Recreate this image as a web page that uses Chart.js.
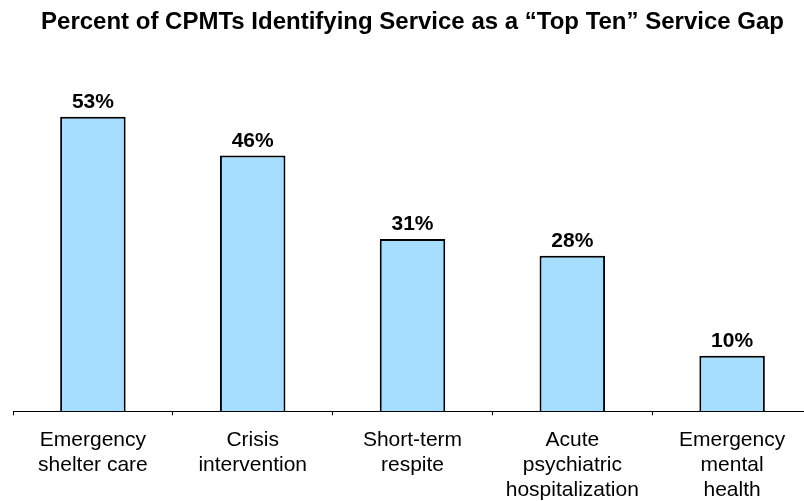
<!DOCTYPE html>
<html>
<head>
<meta charset="utf-8">
<script src="https://cdn.jsdelivr.net/npm/chart.js@4/dist/chart.umd.min.js"></script>
<style>
  html, body { margin: 0; padding: 0; background: #fff; overflow: hidden; }
  #wrap { width: 830px; height: 515px; }
</style>
</head>
<body>
<div id="wrap"><canvas id="myChart"></canvas></div>
<script>
// data
var categories = [
    ['Emergency', 'shelter care'],
    ['Crisis', 'intervention'],
    ['Short-term', 'respite'],
    ['Acute', 'psychiatric', 'hospitalization'],
    ['Emergency', 'mental', 'health']
];
var percentGap = [53, 46, 31, 28, 10];

// value labels above the bars
var valueLabels = {
    id: 'valueLabels',
    afterDatasetsDraw: function(chart) {
        var c = chart.ctx;
        var meta = chart.getDatasetMeta(0);
        c.save();
        c.font = 'bold 21px "Liberation Sans", Arial, sans-serif';
        c.fillStyle = '#000';
        c.textAlign = 'center';
        c.textBaseline = 'bottom';
        meta.data.forEach(function(bar, i) {
            c.fillText(percentGap[i] + '%', bar.x, bar.y - 4);
        });
        c.restore();
    }
};

var ctx = document.getElementById('myChart').getContext('2d');
var chart = new Chart(ctx, {
    type: 'bar',
    data: {
        labels: categories,
        datasets: [{
            data: percentGap,
            backgroundColor: '#A6DEFF',
            borderColor: '#000',
            borderWidth: 2,
            barPercentage: 0.41,
            categoryPercentage: 1
        }]
    },
    options: {
        responsive: true,
        maintainAspectRatio: false,
        animation: false,
        layout: { padding: { left: 13, right: 18, top: 0, bottom: 0 } },
        plugins: {
            legend: { display: false },
            tooltip: { enabled: false },
            title: {
                display: true,
                text: 'Percent of CPMTs Identifying Service as a \u201cTop Ten\u201d Service Gap',
                color: '#000',
                font: { family: '"Liberation Sans", Arial, sans-serif', size: 24, weight: 'bold' },
                padding: { top: 8, bottom: 41 }
            }
        },
        scales: {
            x: {
                border: { color: '#000', width: 1 },
                grid: { drawOnChartArea: false, color: '#000', tickLength: 4, offset: true },
                ticks: {
                    color: '#000',
                    padding: 13,
                    maxRotation: 0,
                    font: { family: '"Liberation Sans", Arial, sans-serif', size: 21, lineHeight: 1.17 }
                }
            },
            y: {
                display: false,
                min: 0,
                max: 60
            }
        }
    },
    plugins: [valueLabels]
});
</script>
</body>
</html>
